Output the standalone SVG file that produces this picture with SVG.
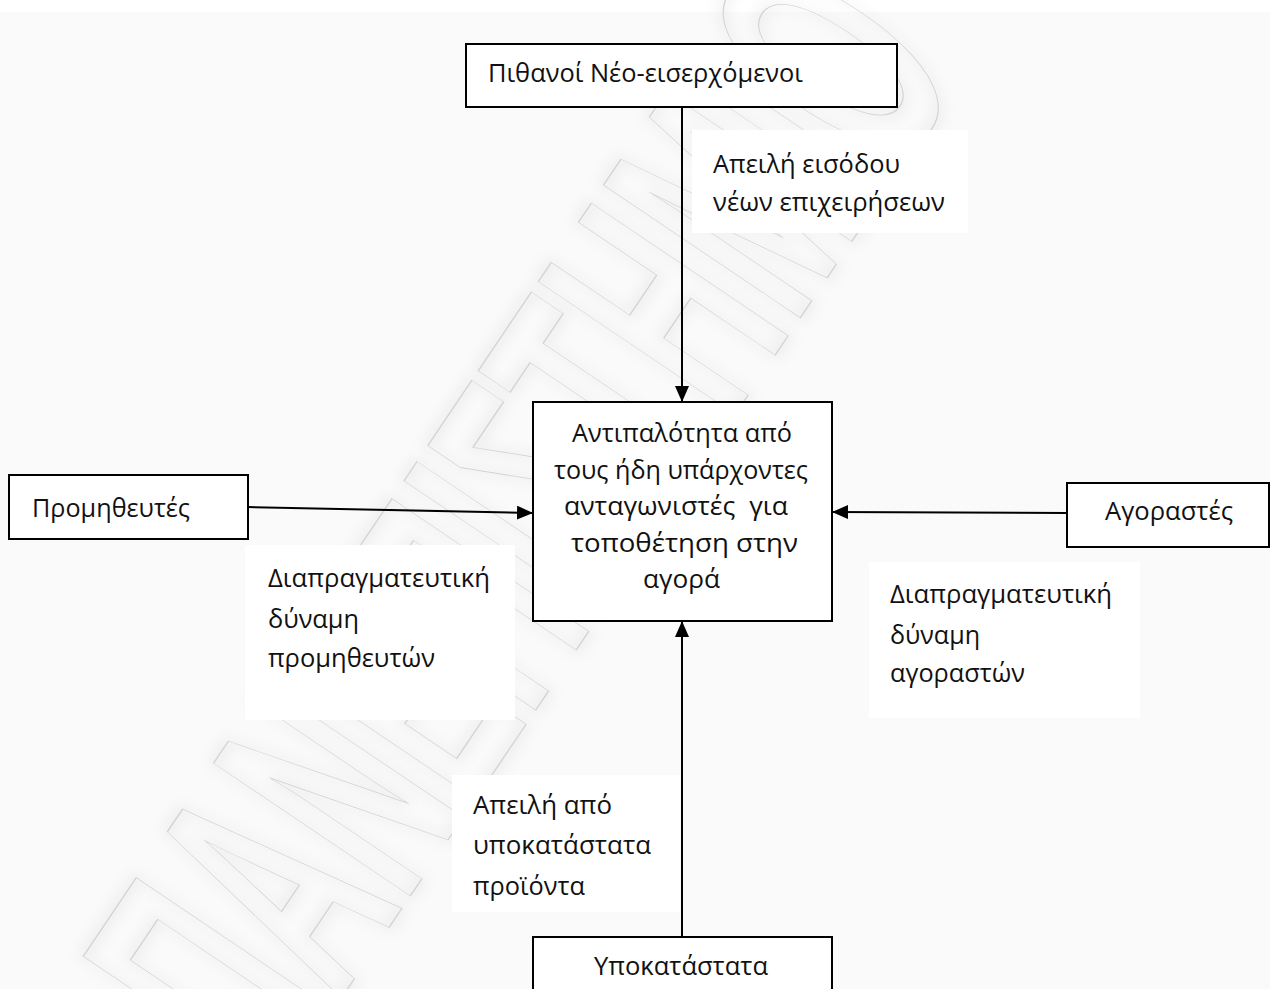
<svg xmlns="http://www.w3.org/2000/svg" width="1270" height="989" viewBox="0 0 1270 989">
  <style>
    .box { fill: #ffffff; stroke: #000000; stroke-width: 2; }
    .pad { fill: #ffffff; stroke: none; }
    .lbl { font-family: "Open Sans", "Noto Sans", "DejaVu Sans", sans-serif; font-size: 25px; fill: #111111; }
    .bt  { font-family: "Open Sans", "Noto Sans", "DejaVu Sans", sans-serif; font-size: 26px; fill: #111111; }
    .edge { stroke: #000000; stroke-width: 2; fill: none; marker-end: url(#head); }
    .wm { font-family: "Liberation Sans", "DejaVu Sans", sans-serif; font-size: 345px; font-weight: bold; }
  </style>
  <defs>
    <marker id="head" viewBox="0 0 16 14" refX="16" refY="7" markerWidth="16" markerHeight="14" markerUnits="userSpaceOnUse" orient="auto">
      <path d="M0,0 L16,7 L0,14 Z" fill="#000000"/>
    </marker>
    <filter id="haze" x="-20%" y="-20%" width="140%" height="140%">
      <feGaussianBlur stdDeviation="7"/>
    </filter>
  </defs>

  <!-- page -->
  <rect x="0" y="0" width="1270" height="989" fill="#fafafa"/>
  <rect x="0" y="0" width="1270" height="12" fill="#ffffff"/>

  <!-- diagonal watermark lettering -->
  <g id="watermark" transform="translate(274,1098) rotate(-56)">
    <text class="wm" x="0" y="0" textLength="1235" lengthAdjust="spacingAndGlyphs" fill="none" stroke="#000000" stroke-opacity="0.06" stroke-width="10" filter="url(#haze)">ΠΑΝΕΠΙΣΤΗΜΙΟ</text>
    <text class="wm" x="0" y="0" textLength="1235" lengthAdjust="spacingAndGlyphs" fill="none" stroke="#d2d2d2" stroke-width="1.3">ΠΑΝΕΠΙΣΤΗΜΙΟ</text>
  </g>

  <!-- label backgrounds and texts -->
  <g id="label-entry">
    <rect class="pad" x="692" y="130" width="276" height="103"/>
    <text class="lbl" x="713" y="173" textLength="187" lengthAdjust="spacingAndGlyphs">Απειλή εισόδου</text>
    <text class="lbl" x="713" y="211" textLength="232" lengthAdjust="spacingAndGlyphs">νέων επιχειρήσεων</text>
  </g>
  <g id="label-suppliers">
    <rect class="pad" x="245" y="545" width="270" height="175"/>
    <text class="lbl" x="268" y="587" textLength="222" lengthAdjust="spacingAndGlyphs">Διαπραγματευτική</text>
    <text class="lbl" x="268" y="628" textLength="91" lengthAdjust="spacingAndGlyphs">δύναμη</text>
    <text class="lbl" x="268" y="667" textLength="167" lengthAdjust="spacingAndGlyphs">προμηθευτών</text>
  </g>
  <g id="label-buyers">
    <rect class="pad" x="869" y="562" width="271" height="156"/>
    <text class="lbl" x="890" y="603" textLength="222" lengthAdjust="spacingAndGlyphs">Διαπραγματευτική</text>
    <text class="lbl" x="890" y="644" textLength="90" lengthAdjust="spacingAndGlyphs">δύναμη</text>
    <text class="lbl" x="890" y="682" textLength="135" lengthAdjust="spacingAndGlyphs">αγοραστών</text>
  </g>
  <g id="label-substitutes">
    <rect class="pad" x="452" y="775" width="228" height="137"/>
    <text class="lbl" x="473" y="814" textLength="139" lengthAdjust="spacingAndGlyphs">Απειλή από</text>
    <text class="lbl" x="473" y="854" textLength="178" lengthAdjust="spacingAndGlyphs">υποκατάστατα</text>
    <text class="lbl" x="473" y="895" textLength="112" lengthAdjust="spacingAndGlyphs">προϊόντα</text>
  </g>

  <!-- connectors -->
  <g id="connectors">
    <line class="edge" x1="682" y1="107" x2="682" y2="402"/>
    <line class="edge" x1="248" y1="507" x2="533" y2="513"/>
    <line class="edge" x1="1067" y1="513" x2="832" y2="512"/>
    <line class="edge" x1="682" y1="937" x2="682" y2="621"/>
  </g>

  <!-- nodes -->
  <g id="node-entrants">
    <rect class="box" x="466" y="44" width="431" height="63"/>
    <text class="bt" x="488" y="82" font-size="25" textLength="315" lengthAdjust="spacingAndGlyphs">Πιθανοί Νέο-εισερχόμενοι</text>
  </g>
  <g id="node-rivalry">
    <rect class="box" x="533" y="402" width="299" height="219"/>
    <text class="bt" x="572" y="442" textLength="220" lengthAdjust="spacingAndGlyphs">Αντιπαλότητα από</text>
    <text class="bt" x="554" y="479" textLength="254" lengthAdjust="spacingAndGlyphs">τους ήδη υπάρχοντες</text>
    <text class="bt" x="564" y="515" textLength="224" lengthAdjust="spacingAndGlyphs" xml:space="preserve">ανταγωνιστές  για</text>
    <text class="bt" x="571" y="552" textLength="227" lengthAdjust="spacingAndGlyphs">τοποθέτηση στην</text>
    <text class="bt" x="643" y="588" textLength="77" lengthAdjust="spacingAndGlyphs">αγορά</text>
  </g>
  <g id="node-suppliers">
    <rect class="box" x="9" y="475" width="239" height="64"/>
    <text class="bt" x="32" y="517" textLength="158" lengthAdjust="spacingAndGlyphs">Προμηθευτές</text>
  </g>
  <g id="node-buyers">
    <rect class="box" x="1067" y="483" width="202" height="64"/>
    <text class="bt" x="1105" y="520" textLength="128" lengthAdjust="spacingAndGlyphs">Αγοραστές</text>
  </g>
  <g id="node-substitutes">
    <rect class="box" x="533" y="937" width="299" height="70"/>
    <text class="bt" x="594" y="975" textLength="174" lengthAdjust="spacingAndGlyphs">Υποκατάστατα</text>
  </g>
</svg>
